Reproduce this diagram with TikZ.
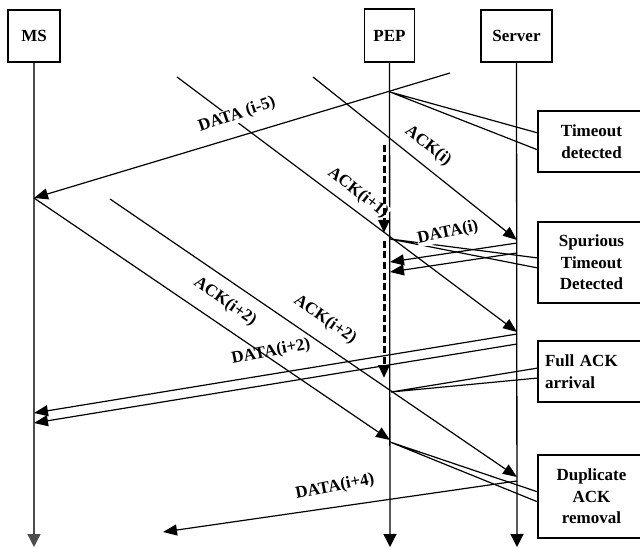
\documentclass[tikz,border=0pt]{standalone}
\usepackage{fontspec}
\setmainfont{Liberation Serif}
\usetikzlibrary{arrows.meta}
\begin{document}
\begin{tikzpicture}[x=1pt,y=-1pt,
  every node/.style={font=\fontsize{17}{21.5}\selectfont\bfseries},
  ent/.style={draw, line width=1.2pt, minimum height=52pt, inner sep=0pt},
  life/.style={line width=1.3pt, -{Triangle[length=13pt,width=13pt]}},
  msg/.style={line width=1.2pt, -{Triangle[length=14pt,width=11pt]}},
  plain/.style={line width=1.2pt},
  lbl/.style={fill=white, inner sep=0.5pt},
  note/.style={draw, line width=1.2pt, minimum width=107pt, inner sep=0pt, align=center},
  pepdash/.style={line width=3pt, dash pattern=on 7pt off 3.5pt, -{Triangle[length=13pt,width=11pt]}}
]
\useasboundingbox (0,0) rectangle (640,548);

% entities
\node[ent, minimum width=52pt] (ms) at (34,36) {MS};
\node[ent, minimum width=50pt, minimum height=53pt] (pep) at (389.5,35.5) {PEP};
\node[ent, minimum width=71pt] (srv) at (516.5,36) {Server};

% notes
\node[note, minimum height=61pt] (tnote) at (591.5,141.5) {Timeout\\detected};
\node[note, minimum height=81pt] (snote) at (591.5,262.5) {Spurious\\Timeout\\Detected};
\node[note, minimum height=61pt, align=left, text width=93pt, inner xsep=7pt] (fnote) at (591.5,371.5) {Full ACK\\arrival};
\node[note, minimum height=83pt] (dnote) at (591.5,496.5) {Duplicate\\ACK\\removal};

% coordinates
\coordinate (msEnd) at (34,547);
\coordinate (pepEnd) at (390,547);
\coordinate (srvEnd) at (517,547);
\coordinate (d5s) at (450,73);
\coordinate (msA) at (34,198);
\coordinate (tTip) at (390,92);
\coordinate (aIs) at (313,77);
\coordinate (sv1) at (517,240);
\coordinate (a1s) at (177,77);
\coordinate (sv2) at (517,332);
\coordinate (spTip) at (390,239);
\coordinate (sv3) at (517,243);
\coordinate (sv4) at (517,253);
\coordinate (pep1) at (390,262);
\coordinate (pep2) at (390,272);
\coordinate (pepA) at (390,440);
\coordinate (bS) at (110,199);
\coordinate (sv5) at (517,477);
\coordinate (faTip) at (391,392);
\coordinate (sv6) at (517,334);
\coordinate (sv7) at (517,344);
\coordinate (ms1) at (34,413);
\coordinate (ms2) at (34,423);
\coordinate (sv8) at (517,481);
\coordinate (d4e) at (163,532);
\coordinate (dTip) at (390,442);
\coordinate (pd1) at (384,145);
\coordinate (pd2) at (384,233);
\coordinate (pd3) at (384,241);
\coordinate (pd4) at (384,378);
\coordinate (tc1) at (538,133);
\coordinate (tc2) at (538,150);
\coordinate (sc1) at (538,258);
\coordinate (sc2) at (538,268);
\coordinate (fc1) at (538,368);
\coordinate (fc2) at (538,378);
\coordinate (dc1) at (538,492);
\coordinate (dc2) at (538,502);

% lifelines
\draw[life, black!70] (ms.south) -- (msEnd);
\draw[life] (pep.south) -- (pepEnd);
\draw[life] (srv.south) -- (srvEnd);

% messages
\draw[msg] (d5s) -- (msA);
\draw[msg] (aIs) -- (sv1);
\draw[msg] (a1s) -- (sv2);
\draw[msg] (sv3) -- (pep1);
\draw[msg] (sv4) -- (pep2);
\draw[msg] (bS) -- (sv5);
\draw[msg] (sv6) -- (ms1);
\draw[msg] (sv7) -- (ms2);
\draw[msg] (sv8) -- (d4e);

% callouts
\draw[plain] (tc1) -- (tTip) -- (tc2);
\draw[plain] (sc1) -- (spTip) -- (sc2);
\draw[plain] (fc1) -- (faTip) -- (fc2);
\draw[plain] (dc1) -- (dTip) -- (dc2);

% labels
\node[lbl, rotate=19] (l1) at (237,115) {DATA (i-5)};
\node[lbl, rotate=-38] (l2) at (428,146) {ACK(i)};
\node[lbl, rotate=-38] (l3) at (358,193) {ACK(i+1)};
\node[lbl, rotate=12] (l4) at (448,233) {DATA(i)};
\node[lbl, rotate=-35] (l5) at (225,302) {ACK(i+2)};
\node[lbl, rotate=-35] (l6) at (325,320) {ACK(i+2)};
\node[lbl, rotate=11] (l7) at (271,352) {DATA(i+2)};
\node[lbl, rotate=11] (l8) at (335,487) {DATA(i+4)};

% line drawn over labels
\draw[msg] (msA) -- (pepA);

% PEP dashed arrows
\draw[pepdash] (pd1) -- (pd2);
\draw[pepdash] (pd3) -- (pd4);
\end{tikzpicture}
\end{document}
